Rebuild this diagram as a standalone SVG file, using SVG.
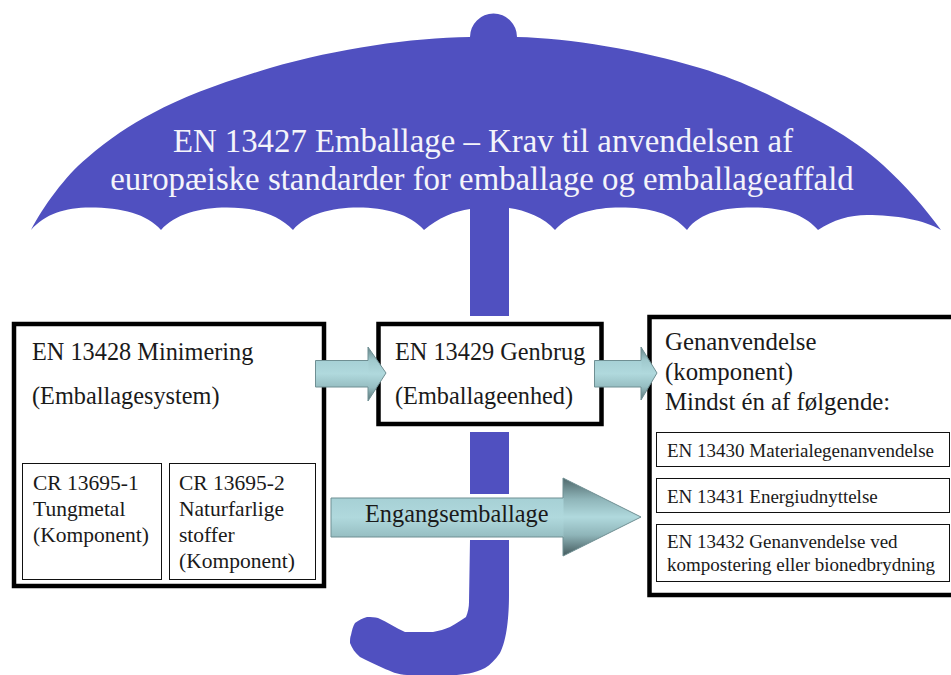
<svg xmlns="http://www.w3.org/2000/svg" width="951" height="675" viewBox="0 0 951 675">
<style>
.u{fill:#5050c0}
.t{font-family:"Liberation Serif","Times New Roman",serif;fill:#1a1a1a}
.w{font-family:"Liberation Serif","Times New Roman",serif;fill:#f4f4fa;font-size:32.800px}
.b{fill:#fff;stroke:#000;stroke-width:4.500}
.s{fill:#fff;stroke:#111;stroke-width:1}
.a{fill:none;stroke:#6f8f93;stroke-width:1}
.m{font-size:24.300px}
.c{font-size:21.500px}
.g{font-size:24.800px}
.e{font-size:19px}
</style>
<defs>
<linearGradient id="sh" x1="0" y1="0" x2="0" y2="1">
<stop offset="0" stop-color="#a6d0d5"/><stop offset="0.5" stop-color="#b0d9dd"/><stop offset="1" stop-color="#96bec2"/>
</linearGradient>
<linearGradient id="h" x1="0" y1="0" x2="0" y2="1">
<stop offset="0" stop-color="#4f686b"/><stop offset="0.27" stop-color="#8fb5b9"/><stop offset="0.5" stop-color="#b0d9dd"/><stop offset="0.73" stop-color="#8fb5b9"/><stop offset="1" stop-color="#445a5d"/>
</linearGradient>
<linearGradient id="h2" x1="0" y1="0" x2="0" y2="1">
<stop offset="0" stop-color="#648185"/><stop offset="0.25" stop-color="#a0c9cd"/><stop offset="0.5" stop-color="#b0d9dd"/><stop offset="0.75" stop-color="#96bec2"/><stop offset="1" stop-color="#587275"/>
</linearGradient>
</defs>
<g id="umbrella">
<path class="u" d="M31 230C43 207 65 176 87 158C110 138 130 125 153 113C185 96 220 83 270 68C340 48 410 38 470 37A23.500 23.500 0 0 1 517 37C570 38 640 50 700 68C730 77 760 90 783 102C810 116 850 135 883 165C905 185 925 208 941 230C925 220 895 215 867 215C850 215 833 220 818 230C805 215 785 207.500 752 207.500C725 207.500 700 212 687 230C672 213 650 207.500 620 207.500C595 207.500 570 213 555 230C545 218 525 210 509 208V316H470V209C455 211 438 218 424 230C410 214 385 207.500 358 207.500C332 207.500 306 214 293 230C278 214 255 207.500 227 207.500C200 207.500 175 214 161 230C147 214 122 207.500 90 207.500C65 207.500 45 214 31 230Z"/>
<rect class="u" x="470" y="432" width="39" height="62"/>
<path class="u" d="M470 540H509V595C509 615 507 640 500 653C495 660 490 665 485 668C475 673 463 675 453 675H407C398 675 390 671 383 668C375 664 367 661 360 657C355 653 352 648 350 643C350 640 350 637 351 635C352 630 353 626 355 623C359 620 363 618 367 617C371 617 375 617 378 618C387 622 396 628 405 632H433C439 631 445 629 450 627C456 624 461 620 466 617C468 612 469 607 469 602Z"/>
</g>
<g id="title">
<text class="w" x="483" y="152" text-anchor="middle">EN 13427 Emballage – Krav til anvendelsen af</text>
<text class="w" x="482" y="190" text-anchor="middle">europæiske standarder for emballage og emballageaffald</text>
</g>
<g id="minimering">
<rect class="b" x="14" y="324" width="310" height="262"/>
<text class="t m" x="32" y="360">EN 13428 Minimering</text>
<text class="t m" x="32" y="404">(Emballagesystem)</text>
</g>
<g id="cr1">
<rect class="s" x="22.500" y="463.500" width="139" height="116"/>
<text class="t c" x="33" y="490">CR 13695-1</text>
<text class="t c" x="33" y="516">Tungmetal</text>
<text class="t c" x="33" y="542">(Komponent)</text>
</g>
<g id="cr2">
<rect class="s" x="169.500" y="463.500" width="146" height="116"/>
<text class="t c" x="179" y="490">CR 13695-2</text>
<text class="t c" x="179" y="516">Naturfarlige</text>
<text class="t c" x="179" y="542">stoffer</text>
<text class="t c" x="179" y="568">(Komponent)</text>
</g>
<g id="genbrug">
<rect class="b" x="378.500" y="324" width="223" height="100"/>
<text class="t m" x="395" y="360">EN 13429 Genbrug</text>
<text class="t m" x="395" y="404">(Emballageenhed)</text>
</g>
<g id="genanvendelse">
<rect class="b" x="649.500" y="317" width="310" height="278"/>
<text class="t g" x="665" y="350">Genanvendelse</text>
<text class="t g" x="665" y="380">(komponent)</text>
<text class="t g" x="665" y="410">Mindst én af følgende:</text>
</g>
<g id="en13430">
<rect class="s" x="656.500" y="432.500" width="293" height="34"/>
<text class="t e" x="667" y="457">EN 13430 Materialegenanvendelse</text>
</g>
<g id="en13431">
<rect class="s" x="656.500" y="478.500" width="293" height="34"/>
<text class="t e" x="667" y="503">EN 13431 Energiudnyttelse</text>
</g>
<g id="en13432">
<rect class="s" x="656.500" y="524.500" width="293" height="57"/>
<text class="t e" x="667" y="548">EN 13432 Genanvendelse ved</text>
<text class="t e" x="667" y="571">kompostering eller bionedbrydning</text>
</g>
<g id="connectors">
<path fill="url(#h2)" d="M368 347L386 373L368 401Z"/>
<rect fill="url(#sh)" x="315.500" y="360.500" width="53" height="26.500"/>
<path class="a" d="M315.500 360.500H368V347L386 373L368 401V387H315.500Z"/>
<path fill="url(#h2)" d="M641 347L657 373L641 400Z"/>
<rect fill="url(#sh)" x="594.500" y="360.500" width="47" height="26.500"/>
<path class="a" d="M594.500 360.500H641V347L657 373L641 400V387H594.500Z"/>
<path fill="url(#h)" d="M563 478L641 517L563 556Z"/>
<rect fill="url(#sh)" x="331" y="498" width="232.500" height="39"/>
<path class="a" d="M331 498H563V478L641 517L563 556V537H331Z"/>
</g>
<text class="t m" x="365" y="522">Engangsemballage</text>
</svg>
